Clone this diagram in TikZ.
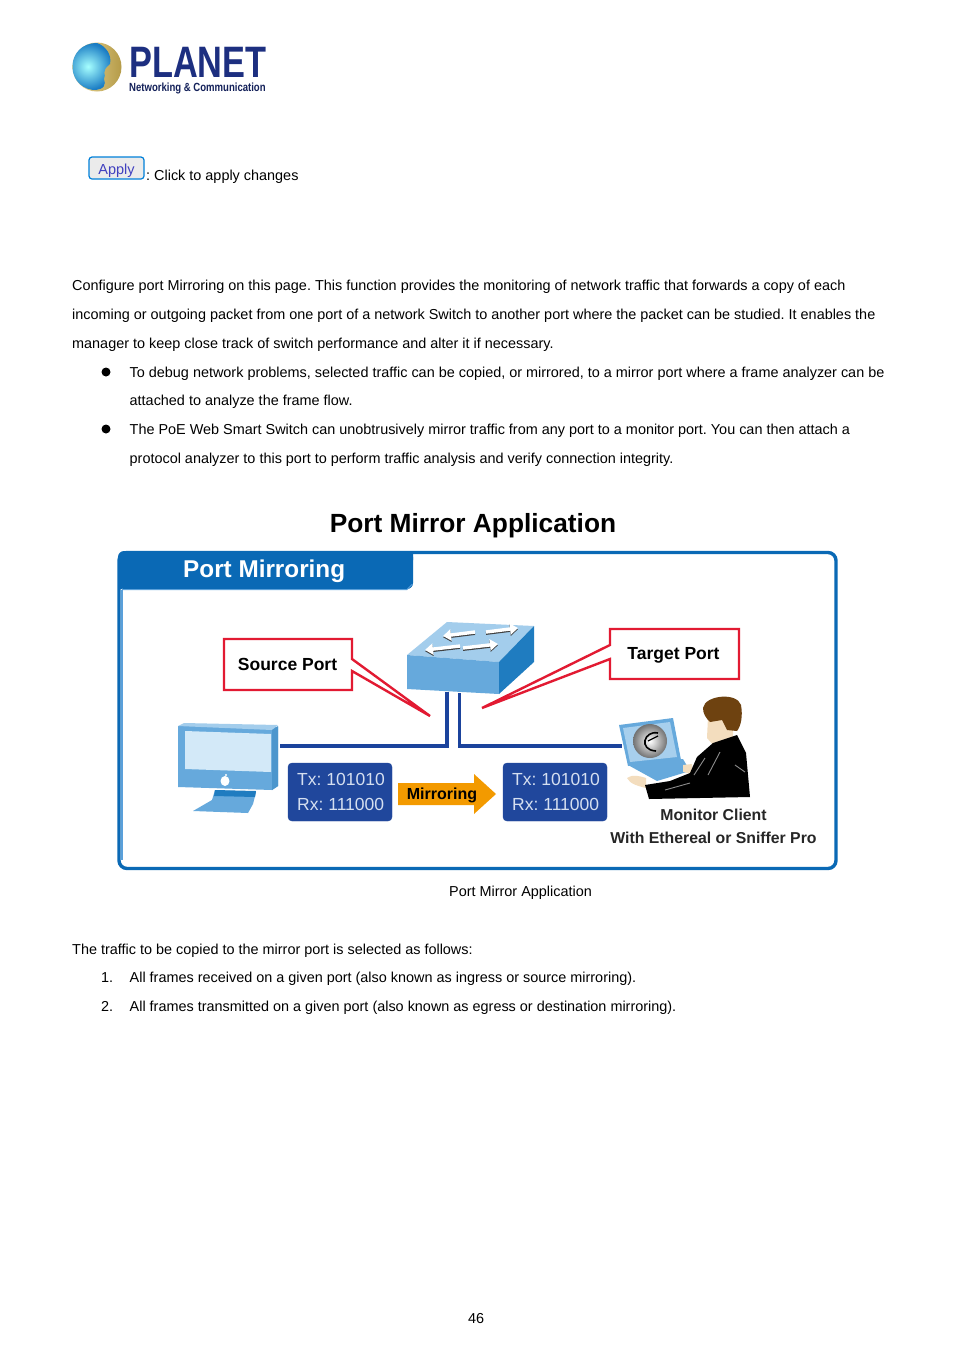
\documentclass[tikz,border=0pt]{standalone}
\usepackage{fontspec}
\setmainfont{Liberation Sans}
\usetikzlibrary{positioning,calc,arrows.meta}
\definecolor{framecol}{HTML}{0A69B5}
\definecolor{framelight}{HTML}{5AA0DA}
\definecolor{linkcol}{HTML}{1B439C}
\definecolor{boxcol}{HTML}{20479C}
\definecolor{boxtext}{HTML}{D5DFF0}
\definecolor{callcol}{HTML}{E21A32}
\definecolor{mirrorcol}{HTML}{F39A00}
\definecolor{switchtop}{HTML}{A3CDEC}
\definecolor{switchfront}{HTML}{66A9DC}
\definecolor{switchside}{HTML}{1F7CC0}
\definecolor{screencol}{HTML}{D3E9F8}
\definecolor{logocol}{HTML}{1D2F80}
\definecolor{hair}{HTML}{6E4210}
\definecolor{skin}{HTML}{F3DDBE}
\definecolor{gold}{HTML}{E2C25A}
\definecolor{globeblue}{HTML}{1A7CC4}
\tikzset{
  body/.style={anchor=base west,inner sep=0pt,font=\fontsize{14.42}{16}\selectfont},
  boxtxt/.style={anchor=base west,inner sep=0pt,text=boxtext,font=\fontsize{17.5}{20}\selectfont},
  calltxt/.style={inner sep=0pt,font=\fontsize{17.5}{20}\selectfont\bfseries},
  clienttxt/.style={inner sep=0pt,text=black!85,font=\fontsize{15.8}{18}\selectfont\bfseries},
  txrx/.style={draw=boxcol,fill=boxcol,rounded corners=4pt},
  callout/.style={draw=callcol,line width=2.4pt,fill=white,line join=miter},
  link/.style={draw=linkcol,line width=3.2pt}
}
\frenchspacing
\begin{document}
\begin{tikzpicture}[x=1pt,y=-1pt]
    \useasboundingbox[fill=white] (0,0) rectangle (954,1350);

    % Logo
    \shade[left color=gold!60!white,right color=gold!80!black] (97,67) circle (24.5);
    \shade[inner color=cyan!35!white,outer color=globeblue] (97,43) .. controls (66,43) and (64,86) .. (93,90) .. controls (105,90) and (106,84) .. (104,79) .. controls (107,74) and (100,72) .. (110,64) .. controls (112,55) and (106,46) .. (97,43);
    \node[anchor=base west,inner sep=0pt,text=logocol] (planet) at (129,77)
        {\scalebox{.78}[1]{\fontsize{44}{44}\selectfont\bfseries PLANET}};
    \node[anchor=base west,inner sep=0pt,text=logocol!70!black] (slogan) at (129,91)
        {\scalebox{.81}[1]{\fontsize{11.8}{12}\selectfont\bfseries Networking \& Communication}};

    % Apply button
    \node[draw=black!30!blue!50!cyan,fill=black!8,rounded corners=3pt,line width=1.2pt,minimum width=55pt,minimum height=22pt,inner sep=0pt,
        text=blue!50!gray,font=\fontsize{14.5}{16}\selectfont] (apply) at (116.5,168) {\raisebox{-6.5pt}[0pt][0pt]{Apply}};
    \node[body] (applytxt) at (146,180) {: Click to apply changes};

    % Paragraph
    \node[body] (l1) at (72,290) {Configure port Mirroring on this page. This function provides the monitoring of network traffic that forwards a copy of each};
    \node[body] (l2) at (72,319) {incoming or outgoing packet from one port of a network Switch to another port where the packet can be studied. It enables the};
    \node[body] (l3) at (72,348) {manager to keep close track of switch performance and alter it if necessary.};
    \node[body] (l4) at (129.5,377) {To debug network problems, selected traffic can be copied, or mirrored, to a mirror port where a frame analyzer can be};
    \node[body] (l5) at (129.5,405) {attached to analyze the frame flow.};
    \node[body] (l6) at (129.5,434) {The PoE Web Smart Switch can unobtrusively mirror traffic from any port to a monitor port. You can then attach a};
    \node[body] (l7) at (129.5,463) {protocol analyzer to this port to perform traffic analysis and verify connection integrity.};
    \foreach \y/\name in {372/b1,429/b2}
        \node[circle,fill=black,minimum size=9pt,inner sep=0pt] (\name) at (106,\y) {};

    % Title
    \node[inner sep=0pt,font=\fontsize{26.3}{30}\selectfont\bfseries] (title) at (473,525.5) {Port Mirror Application};

    % Frame
    \draw[framelight,line width=2pt] (121.8,590) -- (121.8,860);
    \draw[framecol,line width=3.4pt,rounded corners=8pt] (119,552.5) rectangle (836,868.5);
    \fill[framecol,rounded corners=6pt] (118,551) -- (413,551) -- (413,589) -- (118,589) -- cycle;
    \fill[framecol] (118,560) rectangle (122,589) (300,551) rectangle (413,560);
    \draw[framelight,line width=1pt] (122,589.5) -- (407,589.5) -- (412.5,584);
    \node[anchor=base west,inner sep=0pt,text=white,font=\fontsize{24.3}{28}\selectfont\bfseries] (tab) at (183,577) {Port Mirroring};

    % Links
    \coordinate (swa) at (447,692);
    \coordinate (swb) at (459.5,693);
    \coordinate (pc) at (280,746);
    \coordinate (client) at (622,746);
    \draw[link] (swa) |- (pc);
    \draw[link] (swb) |- (client);

    % Switch
    \fill[switchtop] (407,655) -- (447,622) -- (534,626) -- (499,662) -- cycle;
    \fill[switchfront] (407,655) -- (499,662) -- (499,694) -- (407,689) -- cycle;
    \fill[switchside] (499,662) -- (534,626) -- (534,662) -- (499,694) -- cycle;
    \foreach \xa/\ya/\xb/\yb in {475/632/443/636, 486/632/518/628, 460/646/425/650, 463/648/498/644} {
        \draw[black!75,line width=3.4pt,-{Stealth[length=8pt,width=11pt,inset=0pt]}] (\xa,\ya+1.2) -- (\xb,\yb+1.2);
        \draw[white,line width=3.4pt,-{Stealth[length=8pt,width=11pt,inset=0pt]}] (\xa,\ya) -- (\xb,\yb);
    }

    % Callouts
    \draw[callout] (224,639) -- (352,639) -- (352,659) -- (430,716) -- (352,671) -- (352,690) -- (224,690) -- cycle;
    \node[calltxt] (source) at (287.5,664) {Source Port};
    \draw[callout] (610,629) -- (739,629) -- (739,679) -- (610,679) -- (610,659) -- (482,708) -- (610,645) -- cycle;
    \node[calltxt] (target) at (673.5,655.5) {Target Port};

    % Monitor
    \fill[switchfront] (215,790) -- (256,792) -- (253,804) -- (248,813) -- (193,811) -- (212,800) -- cycle;
    \fill[switchside] (215,790) -- (256,791) -- (255,797) -- (214,796) -- cycle;
    \fill[switchfront] (178,726) -- (278,727) -- (278,786) -- (272,790) -- (178,787) -- cycle;
    \fill[switchtop] (178,726) -- (184,723) -- (278,725) -- (272,730) -- cycle;
    \fill[switchside!80!white] (272,730) -- (278,726) -- (278,786) -- (272,790) -- cycle;
    \fill[screencol] (185,731) -- (271,734) -- (271,772) -- (185,769) -- cycle;
    \fill[white] (225,781) ellipse (4.5 and 5);
    \fill[white] (226,775) circle (1.2);

    % Tx and Rx boxes
    \draw[txrx] (288,763) rectangle (392,821);
    \node[boxtxt] (txa) at (297,785) {Tx: 101010};
    \node[boxtxt] (rxa) at (297,810) {Rx: 111000};
    \draw[txrx] (503,763) rectangle (607,821);
    \node[boxtxt] (txb) at (512,785) {Tx: 101010};
    \node[boxtxt] (rxb) at (512,810) {Rx: 111000};

    % Mirroring arrow
    \fill[mirrorcol] (398,783) -- (474,783) -- (474,774) -- (496,794) -- (474,814) -- (474,805) -- (398,805) -- cycle;
    \node[inner sep=0pt,font=\fontsize{16}{18}\selectfont\bfseries] (mirror) at (442,795) {Mirroring};

    % Client with laptop
    \fill[switchfront] (628,765) -- (683,759) -- (690,771) -- (657,781) -- cycle;
    \fill[switchfront] (619,725) -- (673,718) -- (681,760) -- (628,766) -- cycle;
    \fill[screencol!60!switchfront] (623,728) -- (670,722) -- (677,757) -- (630,762) -- cycle;
    \shade[inner color=white,outer color=black!55] (650,741) circle (17);
    \draw[black,line width=1.6pt] (658,733) .. controls (644,730) and (638,750) .. (656,751);
    \draw[black,line width=1.2pt] (648,741) -- (658,736);
    \fill[skin] (627,778) .. controls (632,774) and (640,776) .. (646,778) -- (646,788) .. controls (638,786) and (630,784) .. (627,778);
    \fill[skin] (708,717) -- (733,717) -- (733,738) -- (714,746) -- (707,738) -- cycle;
    \fill[skin] (683,765) -- (692,764) -- (692,774) -- (683,772) -- cycle;
    \fill[black] (737,735) -- (746,753) -- (750,797) -- (649,799) -- (645,785) -- (670,781) -- (690,773) -- (697,757) -- (713,743) -- cycle;
    \draw[black!45,line width=.9pt] (705,758) -- (694,775) (720,752) -- (708,775) (735,765) -- (745,772) (665,790) -- (690,783);
    \fill[hair] (703,708) .. controls (705,695) and (737,692) .. (741,705) .. controls (743,716) and (741,726) .. (737,731) -- (727,730) -- (722,720) -- (710,722) .. controls (706,718) and (703,714) .. (703,708);

    % Client caption
    \node[clienttxt] (monitor) at (713.5,815) {Monitor Client};
    \node[clienttxt] (sniffer) at (713.5,838) {With Ethereal or Sniffer Pro};

    % Text below
    \node[body] (caption) at (449,896) {Port Mirror Application};
    \node[body] (l8) at (72,954) {The traffic to be copied to the mirror port is selected as follows:};
    \node[body] (n1) at (101,982) {1.};
    \node[body] (l9) at (129.5,982) {All frames received on a given port (also known as ingress or source mirroring).};
    \node[body] (n2) at (101,1011) {2.};
    \node[body] (l10) at (129.5,1011) {All frames transmitted on a given port (also known as egress or destination mirroring).};
    \node[body] (page) at (468,1323) {46};
\end{tikzpicture}
\end{document}
